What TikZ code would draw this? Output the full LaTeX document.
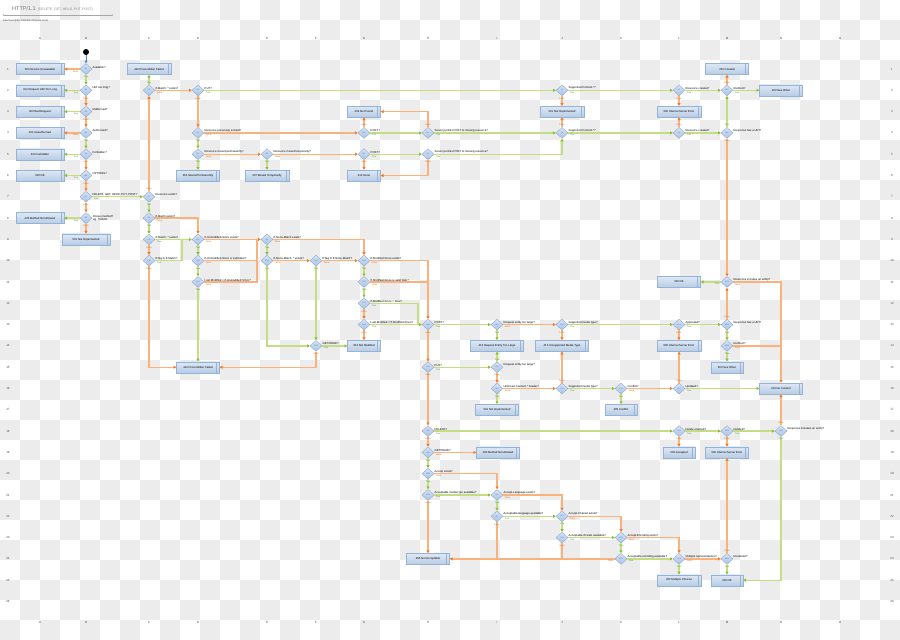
\documentclass[tikz,border=0pt]{standalone}
\usepackage{fontspec}
\setmainfont{Liberation Sans}
\usetikzlibrary{shapes.geometric,arrows.meta,shadows}
\definecolor{chk}{RGB}{236,236,236}
\definecolor{oline}{RGB}{250,178,125}
\definecolor{otip}{RGB}{242,122,42}
\definecolor{gline}{RGB}{196,221,130}
\definecolor{gtip}{RGB}{140,190,50}
\definecolor{otext}{RGB}{228,108,10}
\definecolor{gtext}{RGB}{70,160,40}
\definecolor{boxdraw}{RGB}{149,179,215}
\definecolor{boxtop}{RGB}{222,232,245}
\definecolor{boxbot}{RGB}{184,204,228}
\definecolor{diadraw}{RGB}{141,170,210}
\definecolor{diatop}{RGB}{215,228,244}
\definecolor{diabot}{RGB}{170,195,228}
\definecolor{diatext}{RGB}{70,110,180}
\definecolor{startblue}{RGB}{79,129,189}
\newcommand\fsz[1]{\fontsize{#1}{#1}\selectfont}
\newcommand\qq[2]{\node[qt] (q#1) at ([xshift=0.3pt,yshift=0.7pt]#1.east) {#2};}
\begin{document}
\begin{tikzpicture}[x=1pt,y=-1pt,
  box/.style={rectangle, minimum height=11pt, minimum width=44pt, inner sep=0pt, draw=boxdraw, line width=0.4pt, top color=boxtop, bottom color=boxbot, drop shadow={shadow xshift=0.8pt,shadow yshift=-0.8pt,opacity=0.25}, font=\fsz{2.8}, text=black, path picture={\draw[boxdraw,line width=0.4pt] ([xshift=-3pt]path picture bounding box.north east) -- ([xshift=-3pt]path picture bounding box.south east);}},
  dia/.style={diamond, minimum width=12pt, minimum height=11pt, inner sep=0pt, draw=diadraw, line width=0.4pt, top color=diatop, bottom color=diabot, font=\fsz{2}, text=diatext},
  qt/.style={anchor=south west, font=\fsz{2.8}, inner sep=0pt, text=black},
  lab/.style={font=\fsz{2.2}, inner sep=0.2pt},
  tl/.style={lab, text=gtext},
  fl/.style={lab, text=otext},
  lR/.style={pos=0, anchor=north west, xshift=0.8pt, yshift=-0.6pt},
  lL/.style={pos=0, anchor=north east, xshift=-0.8pt, yshift=-0.6pt},
  lD/.style={pos=0, anchor=north, yshift=-0.6pt},
  lU/.style={pos=0, anchor=south, yshift=0.6pt},
  oa/.style={draw=oline, line width=1.3pt, -{Triangle[length=2.8pt,width=3pt,color=otip]}},
  ga/.style={draw=gline, line width=1.3pt, -{Triangle[length=2.8pt,width=3pt,color=gtip]}},
  oj/.style={draw=oline, line width=1.3pt},
  gj/.style={draw=gline, line width=1.3pt},
  axl/.style={font=\fsz{3}, text=black!70, inner sep=0pt},
]
\useasboundingbox (0,0) rectangle (900,640);
% checkerboard background
\fill[white] (0,0) rectangle (900,640);
\foreach \i in {0,...,44}{\foreach \j in {0,...,31}{\pgfmathtruncatemacro\odd{mod(\i+\j,2)}\ifnum\odd=1 \fill[chk] (\i*20,\j*20) rectangle +(20,20);\fi}}
% header
\node[anchor=west, font=\fsz{5.5}, text=black!55, inner sep=0] (title) at (12,9) {HTTP/1.1};
\node[anchor=west, font=\fsz{3.4}, text=black!45, inner sep=0] (subtitle) at (38,9.5) {[DELETE, GET, HEAD, PUT, POST]};
\coordinate (hl1) at (3,15); \coordinate (hl2) at (113,15);
\draw[black!35, line width=0.4pt, {Circle[length=1.2pt]}-{Circle[length=1.2pt]}] (hl1) -- (hl2);
\node[anchor=west, font=\fsz{2.4}, text=black!80, inner sep=0] (credit) at (3,21) {Alan Dean [http://alandean.blogspot.com/]};
% axis labels
\foreach \n in {1,...,26}{
  \node[axl] (rl\n) at (8,{69+(\n-1)*21.3}) {\n};
  \node[axl] (rr\n) at (892,{69+(\n-1)*21.3}) {\n};}
\foreach \c/\x in {A/40,B/86,C/149,D/198,E/267,F/316,G/364,H/428,I/497,J/562,K/621,L/679,M/727,N/781,O/840}{
  \node[axl] (ct\c) at (\x,38) {\c};
  \node[axl] (cb\c) at (\x,622) {\c};}
% boxes
\node[box, minimum width=48pt] (bA1) at (40,69) {503 Service Unavailable};
\node[box, minimum width=48pt] (bA2) at (40,90.3) {414 Request URI Too Long};
\node[box, minimum width=48pt] (bA3) at (40,111.6) {400 Bad Request};
\node[box, minimum width=48pt] (bA4) at (40,132.9) {401 Unauthorized};
\node[box, minimum width=48pt] (bA5) at (40,154.2) {403 Forbidden};
\node[box, minimum width=48pt] (bA6) at (40,175.5) {200 OK};
\node[box, minimum width=48pt] (bA8) at (40,218.1) {405 Method Not Allowed};
\node[box, minimum width=48pt] (bB9) at (86,239.4) {501 Not Implemented};
\node[box] (bC1) at (149,69) {412 Precondition Failed};
\node[box, minimum width=43pt] (bD6) at (198,175.5) {301 Moved Permanently};
\node[box] (bE6) at (267,175.5) {307 Moved Temporarily};
\node[box, minimum width=33pt] (bG3) at (364,111.6) {404 Not Found};
\node[box, minimum width=33pt] (bG6) at (364,175.5) {410 Gone};
\node[box] (bJ3) at (562,111.6) {501 Not Implemented};
\node[box] (bL3) at (679,111.6) {500 Internal Server Error};
\node[box, minimum width=43pt] (bM1) at (727,69) {201 Created};
\node[box, minimum width=43pt] (bN2) at (781,90.3) {303 See Other};
\node[box, minimum width=43pt] (bD15) at (198,367.2) {412 Precondition Failed};
\node[box, minimum width=33pt] (bG14) at (364,345.9) {304 Not Modified};
\node[box, minimum width=53pt] (bI14) at (497,345.9) {413 Request Entity Too Large};
\node[box, minimum width=53pt] (bJ14) at (562,345.9) {415 Unsupported Media Type};
\node[box] (bL14) at (679,345.9) {500 Internal Server Error};
\node[box, minimum width=32pt] (bM15) at (727,367.2) {303 See Other};
\node[box, minimum width=43pt] (bL11) at (679,282) {200 OK};
\node[box, minimum width=43pt] (bN16) at (781,388.5) {204 No Content};
\node[box, minimum width=43pt] (bI17) at (497,409.8) {501 Not Implemented};
\node[box, minimum width=32pt] (bK17) at (621,409.8) {409 Conflict};
\node[box, minimum width=43pt] (bI19) at (498,452.4) {405 Method Not Allowed};
\node[box, minimum width=32pt] (bL19) at (679,452.4) {202 Accepted};
\node[box, minimum width=43pt] (bM19) at (727,452.4) {500 Internal Server Error};
\node[box, minimum width=43pt] (bH24) at (428,558.9) {406 Not Acceptable};
\node[box] (bL25) at (679,580.2) {300 Multiple Choices};
\node[box, minimum width=32pt] (bM25) at (727,580.2) {200 OK};
% diamonds
\foreach \id/\x/\y in {B1/86/69,B2/86/90.3,B3/86/111.6,B4/86/132.9,B5/86/154.2,B6/86/175.5,B7/86/196.8,B8/86/218.1,
  C2/149/90.3,C7/149/196.8,C8/149/218.1,C9/149/239.4,C10/149/260.7,
  D2/198/90.3,D4/198/132.9,D5/198/154.2,D9/198/239.4,D10/198/260.7,D11/198/282,
  E5/267/154.2,E9/267/239.4,E10/267/260.7,F10/316/260.7,F14/316/345.9,
  G4/364/132.9,G5/364/154.2,G10/364/260.7,G11/364/282,G12/364/303.3,G13/364/324.6,
  H4/428/132.9,H5/428/154.2,H13/428/324.6,H15/428/367.2,H18/428/431.1,H19/428/452.4,H20/428/473.7,H21/428/495,
  I13/497/324.6,I15/497/367.2,I16/497/388.5,I21/497/495,I22/497/516.3,
  J2/562/90.3,J4/562/132.9,J13/562/324.6,J16/562/388.5,J22/562/516.3,J23/562/537.6,
  K16/621/388.5,K23/621/537.6,K24/621/558.9,
  L2/679/90.3,L4/679/132.9,L13/679/324.6,L16/679/388.5,L18/679/431.1,L24/679/558.9,
  M2/727/90.3,M4/727/132.9,M11/727/282,M13/727/324.6,M14/727/345.9,M18/727/431.1,M24/727/558.9,
  N18/781/431.1}{\node[dia] (\id) at (\x,\y) {\id};}
% question texts
\qq{B1}{Available?}
\qq{B2}{URI too long?}
\qq{B3}{Malformed?}
\qq{B4}{Authorized?}
\qq{B5}{Forbidden?}
\qq{B6}{OPTIONS?}
\qq{B7}{DELETE, GET, HEAD, PUT, POST?}
\node[anchor=west, font=\fsz{2.8}, inner sep=0pt, align=left] (qB8) at ([xshift=0.6pt]B8.east) {Known method?\\eg. TRACE};
\qq{C2}{If-Match: * exists?}
\qq{C7}{Resource exists?}
\qq{C8}{If-Match exists?}
\qq{C9}{If-Match: * exists?}
\qq{C10}{ETag in If-Match?}
\qq{D2}{PUT?}
\qq{D4}{Resource previously existed?}
\qq{D5}{Resource moved permanently?}
\qq{E5}{Resource moved temporarily?}
\qq{D9}{If-Unmodified-Since exists?}
\qq{D10}{If-Unmodified-Since is valid date?}
\qq{D11}{Last-Modified > If-Unmodified-Since?}
\qq{E9}{If-None-Match exists?}
\qq{E10}{If-None-Match: * exists?}
\qq{F10}{ETag in If-None-Match?}
\qq{F14}{GET/HEAD?}
\qq{G4}{POST?}
\qq{G5}{POST?}
\qq{G10}{If-Modified-Since exists?}
\qq{G11}{If-Modified-Since is valid date?}
\qq{G12}{If-Modified-Since > Now?}
\qq{G13}{Last-Modified > If-Modified-Since?}
\qq{H4}{Server permits POST to missing resource?}
\qq{H5}{Server permits POST to missing resource?}
\qq{H13}{POST?}
\qq{H15}{PUT?}
\qq{H18}{DELETE?}
\qq{H19}{GET/HEAD?}
\qq{H20}{Accept exists?}
\qq{H21}{Acceptable media type available?}
\qq{I13}{Request entity too large?}
\qq{I15}{Request entity too large?}
\qq{I16}{Unknown Content-* header?}
\qq{I21}{Accept-Language exists?}
\qq{I22}{Acceptable language available?}
\qq{J2}{Supported Content-*?}
\qq{J4}{Supported Content-*?}
\qq{J13}{Supported media type?}
\qq{J16}{Supported media type?}
\qq{J22}{Accept-Charset exists?}
\qq{J23}{Acceptable charset available?}
\qq{K16}{Conflict?}
\qq{K23}{Accept-Encoding exists?}
\qq{K24}{Acceptable encoding available?}
\qq{L2}{Resource created?}
\qq{L4}{Resource created?}
\qq{L13}{Appended?}
\qq{L16}{Updated?}
\qq{L18}{Delete enacted?}
\qq{L24}{Multiple representations?}
\qq{M2}{Redirect?}
\qq{M4}{Response has a URI?}
\qq{M11}{Response includes an entity?}
\qq{M13}{Response has a URI?}
\qq{M14}{Redirect?}
\qq{M18}{Deleted?}
\qq{M24}{Rendered?}
\qq{N18}{Response includes an entity?}
% start
\node[circle, fill=black, minimum size=6pt, inner sep=0pt] (start) at (86,52) {};
\draw[draw=startblue, line width=0.9pt, -{Triangle[length=2.6pt,width=2.8pt]}] (start) -- (B1);
% connectors column B
\draw[oa] (B1) -- node[fl,lL]{False} (bA1);
\draw[ga] (B1) -- node[tl,lD]{True} (B2);
\draw[ga] (B2) -- node[tl,lL]{True} (bA2);
\draw[oa] (B2) -- node[fl,lD]{False} (B3);
\draw[ga] (B3) -- node[tl,lL]{True} (bA3);
\draw[oa] (B3) -- node[fl,lD]{False} (B4);
\draw[oa] (B4) -- node[fl,lL]{False} (bA4);
\draw[ga] (B4) -- node[tl,lD]{True} (B5);
\draw[ga] (B5) -- node[tl,lL]{True} (bA5);
\draw[oa] (B5) -- node[fl,lD]{False} (B6);
\draw[ga] (B6) -- node[tl,lL]{True} (bA6);
\draw[oa] (B6) -- node[fl,lD]{False} (B7);
\draw[ga] (B7) -- node[tl,lR]{True} (C7);
\draw[oa] (B7) -- node[fl,lD]{False} (B8);
\draw[ga] (B8) -- node[tl,lL]{True} (bA8);
\draw[oa] (B8) -- node[fl,lD]{False} (bB9);
% column C / top area
\draw[oa] (C7) -- node[fl,lU]{False} (C2);
\draw[ga] (C7) -- node[tl,lD]{True} (C8);
\draw[ga] (C2) -- node[tl,lU]{True} (bC1);
\draw[oa] (C2) -- node[fl,lR]{False} (D2);
\draw[ga] (D2) -- node[tl,lR]{True} (J2);
\draw[oa] (D2) -- node[fl,lD]{False} (D4);
\draw[oa] (D4) -- node[fl,lR]{False} (G4);
\draw[ga] (D4) -- node[tl,lD]{True} (D5);
\draw[ga] (D5) -- node[tl,lD]{True} (bD6);
\draw[oa] (D5) -- node[fl,lR]{False} (E5);
\draw[ga] (E5) -- node[tl,lD]{True} (bE6);
\draw[oa] (E5) -- node[fl,lR]{False} (G5);
\draw[ga] (G4) -- node[tl,lR]{True} (H4);
\draw[oa] (G4) -- node[fl,lU]{False} (bG3);
\draw[ga] (G5) -- node[tl,lR]{True} (H5);
\draw[oa] (G5) -- node[fl,lD]{False} (bG6);
\draw[oa] (H4) |- node[fl,lU]{False} (bG3);
\draw[ga] (H4) -- node[tl,lR]{True} (J4);
\draw[oa] (H5) |- node[fl,lD]{False} (bG6);
\draw[ga] (H5) -| node[tl,lR]{True} (J4);
\draw[ga] (J2) -- node[tl,lR]{True} (L2);
\draw[oa] (J2) -- node[fl,lD]{False} (bJ3);
\draw[oa] (J4) -- node[fl,lU]{False} (bJ3);
\draw[ga] (J4) -- node[tl,lR]{True} (L4);
\draw[ga] (L2) -- node[tl,lR]{True} (M2);
\draw[oa] (L2) -- node[fl,lD]{False} (bL3);
\draw[oa] (L4) -- node[fl,lU]{False} (bL3);
\draw[ga] (L4) -- node[tl,lR]{True} (M4);
\draw[ga] (M2) -- node[tl,lR]{True} (bN2);
\draw[oa] (M2) -- node[fl,lU]{False} (bM1);
\draw[ga] (M4) -- node[tl,lU]{True} (M2);
\draw[oa] (M4) -- node[fl,lD]{False} (M11);
% preconditions
\coordinate (jC10) at (182,239.4);
\coordinate (jD10) at (257,239.4);
\coordinate (jD11) at (257,260.7);
\coordinate (jG11) at (428,282);
\coordinate (jG12) at (418,324.6);
\coordinate (jM14) at (781,345.9);
\coordinate (jI22) at (497,558.9);
\coordinate (jJ23) at (562,558.9);
\draw[ga] (C8) -- node[tl,lD]{True} (C9);
\draw[oa] (C8) -| node[fl,lR]{False} (D9);
\draw[ga] (C9) -- node[tl,lR]{True} (D9);
\draw[oa] (C9) -- node[fl,lD]{False} (C10);
\draw[gj] (C10.east) -| node[tl,lR]{True} (jC10);
\draw[oa] (C10) |- node[fl,lD]{False} (bD15);
\draw[ga] (D9) -- node[tl,lD]{True} (D10);
\draw[oa] (D9) -- node[fl,lR]{False} (E9);
\draw[ga] (D10) -- node[tl,lD]{True} (D11);
\draw[oj] (D10.east) -| node[fl,lR]{False} (jD10);
\draw[oj] (D11.east) -| node[fl,lR]{False} (jD11);
\draw[ga] (D11) -- node[tl,lD]{True} (bD15);
\draw[ga] (E9) -- node[tl,lD]{True} (E10);
\draw[oa] (E9) -| node[fl,lR]{False} (G10);
\draw[ga] (E10) |- node[tl,lD]{True} (F14);
\draw[oa] (E10) -- node[fl,lR]{False} (F10);
\draw[ga] (F10) -- node[tl,lD]{True} (F14);
\draw[oa] (F10) -- node[fl,lR]{False} (G10);
\draw[ga] (F14) -- node[tl,lR]{True} (bG14);
\draw[oa] (F14) |- node[fl,lD]{False} (bD15);
\draw[ga] (G10) -- node[tl,lD]{True} (G11);
\draw[oa] (G10) -| node[fl,lR]{False} (H13);
\draw[ga] (G11) -- node[tl,lD]{True} (G12);
\draw[oj] (G11.east) -- node[fl,lR]{False} (jG11);
\draw[oa] (G12) -- node[fl,lD]{False} (G13);
\draw[gj] (G12.east) -| node[tl,lR]{True} (jG12);
\draw[ga] (G13) -- node[tl,lR]{True} (H13);
\draw[oa] (G13) -- node[fl,lD]{False} (bG14);
% methods on existing resource
\draw[ga] (H13) -- node[tl,lR]{True} (I13);
\draw[oa] (H13) -- node[fl,lD]{False} (H15);
\draw[ga] (I13) -- node[tl,lD]{True} (bI14);
\draw[oa] (I13) -- node[fl,lR]{False} (J13);
\draw[ga] (J13) -- node[tl,lR]{True} (L13);
\draw[oa] (J13) -- node[fl,lD]{False} (bJ14);
\draw[ga] (H15) -- node[tl,lR]{True} (I15);
\draw[oa] (H15) -- node[fl,lD]{False} (H18);
\draw[ga] (I15) -- node[tl,lU]{True} (bI14);
\draw[oa] (I15) -- node[fl,lD]{False} (I16);
\draw[ga] (I16) -- node[tl,lD]{True} (bI17);
\draw[oa] (I16) -- node[fl,lR]{False} (J16);
\draw[oa] (J16) -- node[fl,lU]{False} (bJ14);
\draw[ga] (J16) -- node[tl,lR]{True} (K16);
\draw[ga] (K16) -- node[tl,lD]{True} (bK17);
\draw[oa] (K16) -- node[fl,lR]{False} (L16);
\draw[ga] (L13) -- node[tl,lR]{True} (M13);
\draw[oa] (L13) -- node[fl,lD]{False} (bL14);
\draw[oa] (L16) -- node[fl,lU]{False} (bL14);
\draw[ga] (L16) -- node[tl,lR]{True} (bN16);
\draw[ga] (M11) -- node[tl,lL]{True} (bL11);
\draw[oa] (M11) -| node[fl,lR]{False} (bN16);
\draw[oa] (M13) -- node[fl,lU]{False} (M11);
\draw[ga] (M13) -- node[tl,lD]{True} (M14);
\draw[ga] (M14) -- node[tl,lD]{True} (bM15);
\draw[oj] (M14.east) -- node[fl,lR]{False} (jM14);
% delete / get / negotiation
\draw[ga] (H18) -- node[tl,lR]{True} (L18);
\draw[oa] (H18) -- node[fl,lD]{False} (H19);
\draw[ga] (H19) -- node[tl,lD]{True} (H20);
\draw[oa] (H19) -- node[fl,lR]{False} (bI19);
\draw[ga] (H20) -- node[tl,lD]{True} (H21);
\draw[oa] (H20) -| node[fl,lR]{False} (I21);
\draw[ga] (H21) -- node[tl,lR]{True} (I21);
\draw[oa] (H21) -- node[fl,lD]{False} (bH24);
\draw[ga] (I21) -- node[tl,lD]{True} (I22);
\draw[oa] (I21) -| node[fl,lR]{False} (J22);
\draw[ga] (I22) -- node[tl,lR]{True} (J22);
\draw[oj] (I22.south) -- node[fl,lD]{False} (jI22);
\draw[ga] (J22) -- node[tl,lD]{True} (J23);
\draw[oa] (J22) -| node[fl,lR]{False} (K23);
\draw[ga] (J23) -- node[tl,lR]{True} (K23);
\draw[oj] (J23.south) -- node[fl,lD]{False} (jJ23);
\draw[ga] (K23) -- node[tl,lD]{True} (K24);
\draw[oa] (K23) -| node[fl,lR]{False} (L24);
\draw[ga] (K24) -- node[tl,lR]{True} (L24);
\draw[oa] (K24) -- node[fl,lL]{False} (bH24);
\draw[ga] (L24) -- node[tl,lD]{True} (bL25);
\draw[oa] (L24) -- node[fl,lR]{False} (M24);
\draw[ga] (M24) -- node[tl,lD]{True} (bM25);
\draw[oa] (M24) -- node[fl,lU]{False} (bM19);
\draw[ga] (L18) -- node[tl,lR]{True} (M18);
\draw[oa] (L18) -- node[fl,lD]{False} (bL19);
\draw[ga] (M18) -- node[tl,lR]{True} (N18);
\draw[oa] (M18) -- node[fl,lD]{False} (bM19);
\draw[oa] (N18) -- node[fl,lU]{False} (bN16);
\draw[ga] (N18) |- node[tl,lD]{True} (bM25);
\end{tikzpicture}
\end{document}
